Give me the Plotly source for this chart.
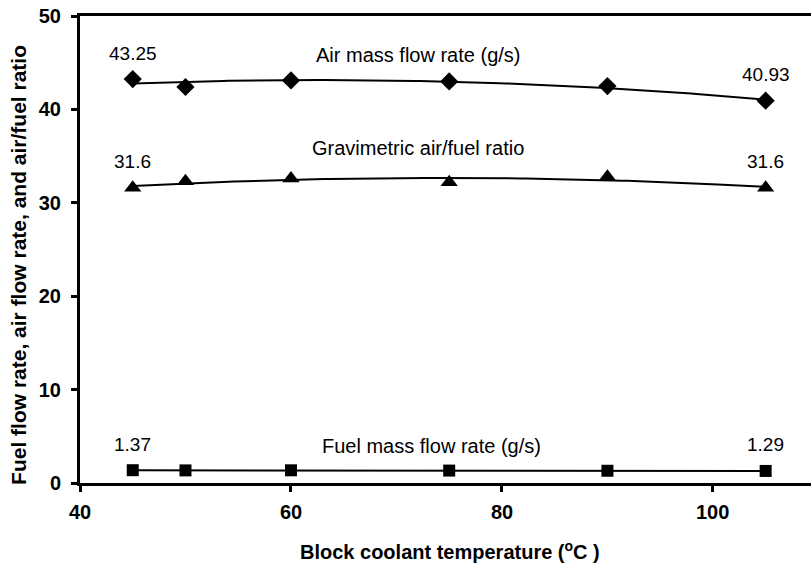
import numpy as np
import plotly.graph_objects as go

# Block coolant temperature (deg C)
temperature = [45, 50, 60, 75, 90, 105]

# Measured series
air_flow = [43.25, 42.4, 43.1, 43.0, 42.5, 40.93]      # g/s
af_ratio = [31.6, 32.3, 32.6, 32.2, 32.8, 31.6]         # gravimetric
fuel_flow = [1.37, 1.35, 1.36, 1.33, 1.31, 1.29]        # g/s

y_ticks = [0, 10, 20, 30, 40, 50]
x_ticks = [40, 60, 80, 100]

FONT = "Liberation Sans, Arial, sans-serif"
BOLD = dict(family=FONT, size=20, color="black", weight="bold")

fig = go.Figure()

series = [
    ("Air mass flow rate (g/s)", air_flow, "diamond", 14, (72, 45.8)),
    ("Gravimetric air/fuel ratio", af_ratio, "triangle-up", 15, (72, 35.9)),
    ("Fuel mass flow rate (g/s)", fuel_flow, "square", 12, (73.3, 4.0)),
]

x_fit = np.linspace(min(temperature), max(temperature), 120)
for name, values, symbol, size, (lx, ly) in series:
    # second-order trend line through the measurements
    coeffs = np.polyfit(temperature, values, 2)
    fig.add_trace(go.Scatter(
        x=x_fit, y=np.polyval(coeffs, x_fit), mode="lines",
        line=dict(color="black", width=2), hoverinfo="skip", showlegend=False,
    ))
    fig.add_trace(go.Scatter(
        x=temperature, y=values, mode="markers", name=name,
        marker=dict(symbol=symbol, size=size, color="black"),
        showlegend=False,
    ))
    # series caption
    fig.add_annotation(x=lx, y=ly, text=name, showarrow=False,
                       font=dict(family=FONT, size=20, color="black"))
    # first and last values
    for i in (0, -1):
        fig.add_annotation(x=temperature[i], y=values[i], text=f"{values[i]:g}",
                           showarrow=False, yshift=26,
                           font=dict(family=FONT, size=19, color="black"))

# x tick labels, set just under the tick marks
for v in x_ticks:
    fig.add_annotation(x=v, xref="x", y=0, yref="paper", text=str(v),
                       showarrow=False, yanchor="middle", yshift=-29, font=BOLD)

# x axis title
fig.add_annotation(x=0.5, xref="paper", y=0, yref="paper",
                   text="Block coolant temperature (<sup>o</sup>C )",
                   showarrow=False, yanchor="middle", yshift=-67, xshift=4,
                   font=BOLD)

# y axis title
fig.add_annotation(x=0, xref="paper", y=0.467, yref="paper",
                   text="Fuel flow rate, air flow rate, and air/fuel ratio",
                   showarrow=False, textangle=-90, xanchor="center",
                   yanchor="middle", xshift=-61,
                   font=dict(family=FONT, size=21, color="black", weight="bold"))

fig.update_layout(
    width=811, height=569,
    margin=dict(l=80, r=0, t=16, b=86),
    paper_bgcolor="white", plot_bgcolor="white",
    font=dict(family=FONT, color="black"),
    showlegend=False,
)

fig.update_xaxes(
    range=[40, 109.3], tickvals=x_ticks, showticklabels=False,
    showgrid=False, zeroline=False,
    showline=True, linecolor="black", linewidth=3, mirror=True,
    ticks="outside", ticklen=6, tickwidth=3, tickcolor="black",
)
fig.update_yaxes(
    range=[0, 50], tickvals=y_ticks, ticktext=[str(v) for v in y_ticks],
    showgrid=False, zeroline=False,
    showline=True, linecolor="black", linewidth=3,
    ticks="outside", ticklen=6, tickwidth=3, tickcolor="black",
    ticklabelstandoff=6,
    tickfont=BOLD,
)

fig.write_html("out.html")
